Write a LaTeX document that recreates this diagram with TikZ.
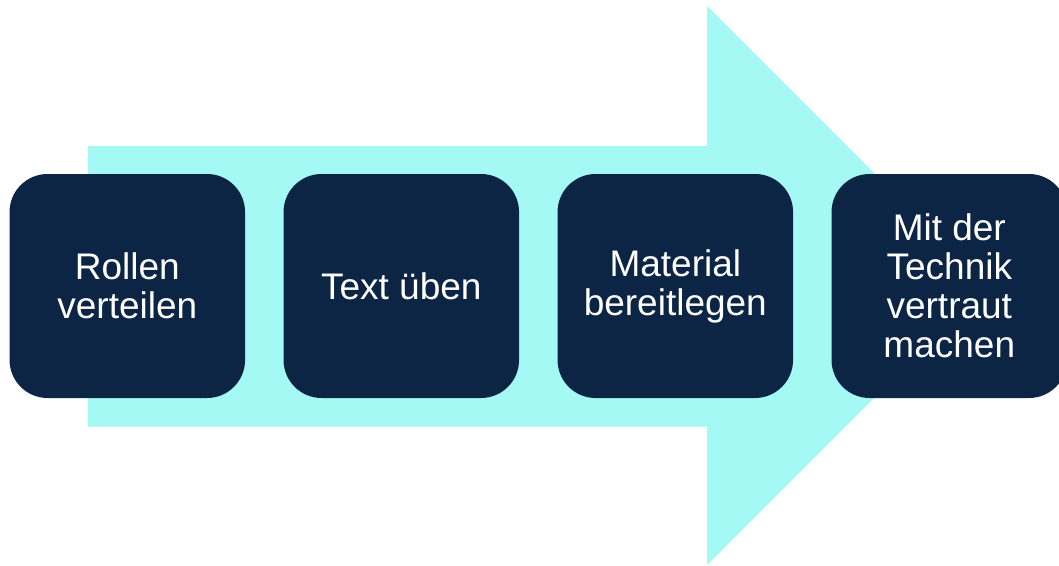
\documentclass[tikz,border=0pt]{standalone}
\usepackage{fontspec}
\setmainfont{Liberation Sans}
\definecolor{arrowcyan}{RGB}{165,249,245}
\definecolor{boxnavy}{RGB}{12,37,69}
\begin{document}
\begin{tikzpicture}[x=1pt,y=-1pt,
  stepbox/.style={fill=boxnavy, draw=none, rounded corners=38pt, minimum width=235.5pt, minimum height=224pt, inner sep=0pt, text=white, align=center, font=\fontsize{37}{39}\selectfont}]
\useasboundingbox (0,0) rectangle (1059,565);
\fill[arrowcyan] (88,146) -- (707,146) -- (707,6) -- (986.5,285.5) -- (707,565) -- (707,426.7) -- (88,426.7) -- cycle;
\node[stepbox] (s1) at (127.3,286) {Rollen\\verteilen};
\node[stepbox] (s2) at (401.3,286) {Text üben};
\node[stepbox] (s3) at (675.3,286) {Material\\bereitlegen};
\node[stepbox] (s4) at (949.3,286) {Mit der\\Technik\\vertraut\\machen};
\end{tikzpicture}
\end{document}
